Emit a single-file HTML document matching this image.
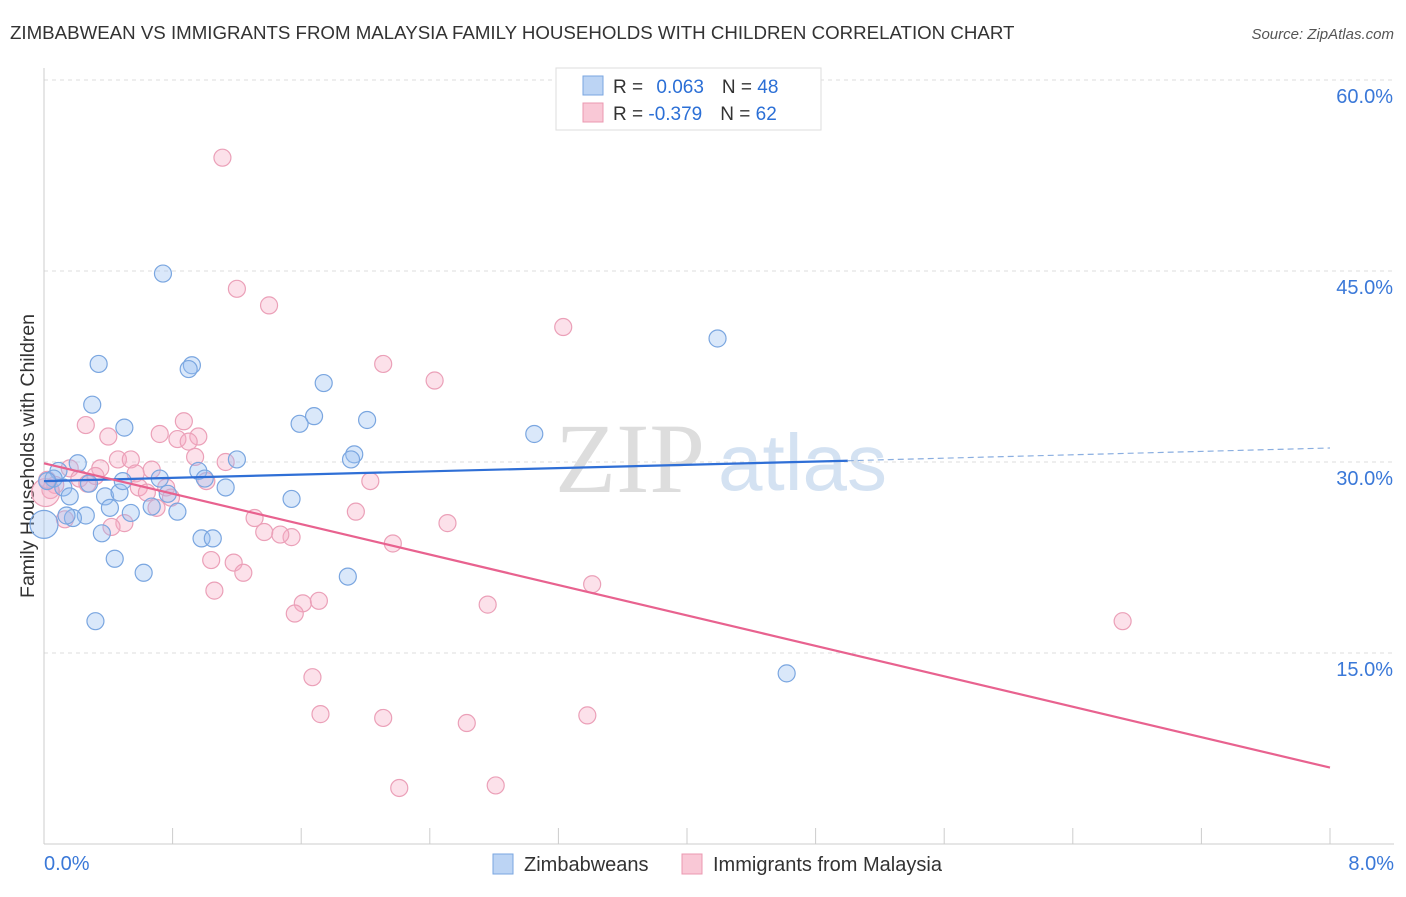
<!DOCTYPE html>
<html><head><meta charset="utf-8"><style>
body{margin:0;background:#fff;font-family:"Liberation Sans",sans-serif;}
svg text{font-family:"Liberation Sans",sans-serif;}
</style></head><body>
<svg id="chart" width="1406" height="892">
<text x="10" y="39" font-size="18.7" fill="#333">ZIMBABWEAN VS IMMIGRANTS FROM MALAYSIA FAMILY HOUSEHOLDS WITH CHILDREN CORRELATION CHART</text>
<text x="1394" y="39" font-size="15" fill="#555" text-anchor="end" font-style="italic">Source: ZipAtlas.com</text>
<text x="555" y="492" font-size="100" fill="#ddd" font-family="Liberation Serif" style="font-family:'Liberation Serif',serif">ZIP</text>
<text x="718" y="490" font-size="80" fill="#d4e2f2">atlas</text>
<text transform="translate(34,456) rotate(-90)" font-size="19.5" fill="#333" text-anchor="middle">Family Households with Children</text>
<g id="grid"></g><g id="marks"></g><g id="trend"></g>
<g>
<rect x="556" y="68" width="265" height="62" fill="#fff" stroke="#ddd"/>
<rect x="583" y="76" width="20" height="19" fill="#bcd4f4" stroke="#7aa6e0"/>
<rect x="583" y="103" width="20" height="19" fill="#f9c8d6" stroke="#eb98b0"/>
<text x="613" y="93" font-size="19" fill="#333">R = <tspan fill="#2b6fd6" dx="8">0.063</tspan><tspan dx="18" fill="#333">N = </tspan><tspan fill="#2b6fd6">48</tspan></text>
<text x="613" y="120" font-size="19" fill="#333">R = <tspan fill="#2b6fd6">-0.379</tspan><tspan dx="18" fill="#333">N = </tspan><tspan fill="#2b6fd6">62</tspan></text>
</g>
<g>
<rect x="493" y="854" width="20" height="20" fill="#bcd4f4" stroke="#7aa6e0"/>
<text x="524" y="871" font-size="20" fill="#333">Zimbabweans</text>
<rect x="682" y="854" width="20" height="20" fill="#f9c8d6" stroke="#eb98b0"/>
<text x="713" y="871" font-size="20" fill="#333">Immigrants from Malaysia</text>
</g>
</svg>
<script>
const xTicks=[0,0.8,1.6,2.4,3.2,4.0,4.8,5.6,6.4,7.2,8.0];
const yTicks=[15,30,45,60];
const yTickLabels=["15.0%","30.0%","45.0%","60.0%"];
const xTickLabels=["0.0%","8.0%"];
const blueX=[0.74,0.34,0.92,0.90,0.30,0.50,1.74,1.68,1.59,2.01,1.93,1.91,1.20,3.05,4.19,4.62,0.21,0.09,0.06,0.02,0.12,0.16,0.28,0.38,0.47,0.49,0.72,0.96,1.00,1.13,0.77,0.67,0.83,0.41,0.54,0.26,0.18,0.14,0.36,0.98,1.05,1.54,0.44,0.62,1.89,0.32,0.00];
const blueY=[44.8,37.7,37.6,37.3,34.5,32.7,36.2,33.6,33.0,33.3,30.6,30.2,30.2,32.2,39.7,13.4,29.9,29.3,28.7,28.5,28.0,27.3,28.3,27.3,27.6,28.5,28.7,29.3,28.7,28.0,27.5,26.5,26.1,26.4,26.0,25.8,25.6,25.8,24.4,24.0,24.0,27.1,22.4,21.3,21.0,17.5,25.1];
const pinkX=[1.11,1.20,1.40,3.23,2.11,2.43,0.26,0.40,0.72,0.87,0.83,0.96,0.90,0.94,1.13,0.46,0.54,0.35,0.16,0.67,0.57,0.32,0.22,0.27,0.07,0.04,0.59,0.76,1.01,2.03,0.64,0.79,0.70,0.13,0.50,0.42,1.31,1.37,1.54,1.47,1.94,2.51,2.17,1.04,1.18,1.24,1.06,3.41,1.61,1.71,1.56,2.76,6.71,1.67,1.72,2.11,2.63,3.38,2.21,2.81,0.01,0.02];
const pinkY=[53.9,43.6,42.3,40.6,37.7,36.4,32.9,32.0,32.2,33.2,31.8,32.0,31.6,30.4,30.0,30.2,30.2,29.5,29.5,29.4,29.1,28.9,28.7,28.3,28.2,27.8,28.0,28.0,28.5,28.5,27.6,27.2,26.4,25.5,25.2,24.9,25.6,24.5,24.1,24.3,26.1,25.2,23.6,22.3,22.1,21.3,19.9,20.4,18.9,19.1,18.1,18.8,17.5,13.1,10.2,9.9,9.5,10.1,4.4,4.6,27.6,28.6];
const blueTrendX=[0,5.0,8.0];
const blueTrendY=[28.5,30.1,31.1];
const pinkTrendX=[0,8.0];
const pinkTrendY=[29.9,6.0];
const NS="http://www.w3.org/2000/svg";
const sx=v=>44+v/8*1286;
const sy=v=>844-v/60*764;
function mk(t,a,p){const e=document.createElementNS(NS,t);for(const k in a)e.setAttribute(k,a[k]);p.appendChild(e);return e;}
const grid=document.getElementById('grid'),marks=document.getElementById('marks'),trend=document.getElementById('trend');
yTicks.forEach((v,i)=>{
 const l=mk('line',{x1:44,x2:1394,y1:sy(v),y2:sy(v),stroke:'#ddd','stroke-dasharray':'4,4'},grid);
 
 
 const t=mk('text',{x:1393,y:sy(v)+23,'font-size':20,fill:'#3a78d8','text-anchor':'end'},grid);t.textContent=yTickLabels[i];
 
 
});
mk('line',{x1:44,x2:44,y1:68,y2:844,stroke:'#ccc'},grid);
mk('line',{x1:44,x2:1394,y1:844,y2:844,stroke:'#ccc'},grid);
xTicks.forEach(v=>{const l=mk('line',{x1:sx(v),x2:sx(v),y1:828,y2:844,stroke:'#ccc'},grid);
 
 });
[[0,'start',44],[8,'end',1394]].forEach((a,i)=>{const t=mk('text',{x:a[2],y:870,'font-size':20,fill:'#3a78d8','text-anchor':a[1]},grid);t.textContent=xTickLabels[i];
 
 });
function pts(X,Y,fill,stroke,name){X.forEach((x,i)=>{const big=(x<=0.01&&i>=X.length-2);
 const c=mk('circle',{cx:sx(x),cy:sy(Y[i]),r:big?14:8.5,fill:fill,stroke:stroke,'stroke-width':1.2},marks);
 
 });}
pts(pinkX,pinkY,'rgba(246,170,195,0.35)','#eba0b8','malaysia-point');
pts(blueX,blueY,'rgba(150,190,240,0.35)','#7aa6e0','zimbabwean-point');
const b1=mk('line',{x1:sx(blueTrendX[0]),y1:sy(blueTrendY[0]),x2:sx(blueTrendX[1]),y2:sy(blueTrendY[1]),stroke:'#2f6fd6','stroke-width':2.2},trend);


const b2=mk('line',{x1:sx(blueTrendX[1]),y1:sy(blueTrendY[1]),x2:sx(blueTrendX[2]),y2:sy(blueTrendY[2]),stroke:'#8aaee0','stroke-width':1.2,'stroke-dasharray':'6,4'},trend);


const p1=mk('line',{x1:sx(pinkTrendX[0]),y1:sy(pinkTrendY[0]),x2:sx(pinkTrendX[1]),y2:sy(pinkTrendY[1]),stroke:'#e8628f','stroke-width':2.2},trend);


</script>
</body></html>
